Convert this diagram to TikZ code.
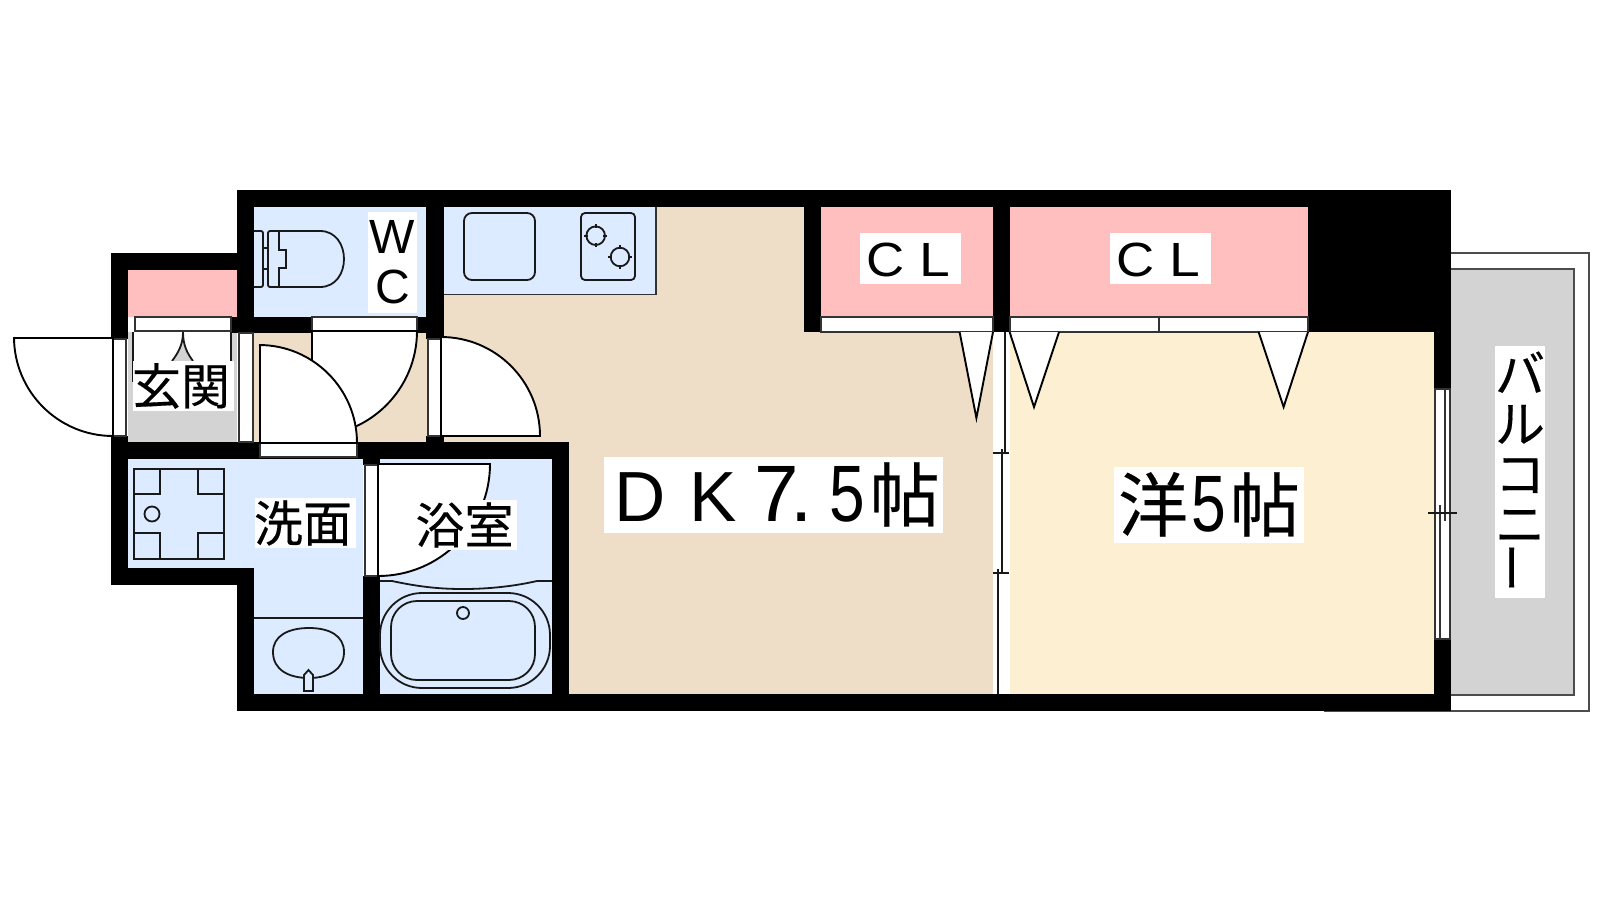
\documentclass[tikz,border=0pt]{standalone}
\usepackage{fontspec}
\setmainfont[FakeBold=0.3]{Noto Sans CJK JP}
\newfontfamily\latinfont{Liberation Sans}

\definecolor{wetblue}{HTML}{DCEBFF}
\definecolor{clpink}{HTML}{FFBFBF}
\definecolor{dkbeige}{HTML}{EEDEC8}
\definecolor{roomyellow}{HTML}{FDF0D2}
\definecolor{floorgray}{HTML}{D3D3D3}
\newcommand{\sz}[1]{\fontsize{#1pt}{#1pt}\selectfont}

\begin{document}
\begin{tikzpicture}[x=1pt,y=-1pt,
  wall/.style={fill=black,draw=none},
  thin line/.style={draw=black!90,line width=1.8pt},
  leaf/.style={draw=black,fill=white,line width=1.9pt},
  strip/.style={draw=black!80,fill=white,line width=1.6pt},
  room label/.style={fill=white,inner sep=0pt,text=black,align=center}]
\useasboundingbox (0,0) rectangle (1600,900);
\fill[white] (0,0) rectangle (1600,900);

% floors
\fill[dkbeige] (444,207) rectangle (993,694);
\fill[dkbeige] (254,333) rectangle (444,442);
\fill[roomyellow] (1010,332) rectangle (1434,694);
\fill[white] (993,332) rectangle (1010,694);
\fill[wetblue] (254,207) rectangle (426,317);
\fill[wetblue] (444,207) rectangle (656,295);
\fill[wetblue] (128,459) rectangle (363,568);
\fill[wetblue] (254,568) rectangle (363,694);
\fill[wetblue] (380,459) rectangle (552,694);
\fill[clpink] (128,270) rectangle (237,317);
\fill[clpink] (821,207) rectangle (993,317);
\fill[clpink] (1010,207) rectangle (1308,317);
\fill[floorgray] (128,332) rectangle (237,442);
\fill[white] (133,332) rectangle (231,361);
\draw[draw=black!80,line width=1.5pt] (444,294.5) -- (656,294.5) -- (656,207);

% balcony
\draw[draw=black!70,line width=1.6pt] (1324,711) -- (1589,711) -- (1589,253) -- (1450,253);
\draw[draw=black!70,fill=floorgray,line width=1.6pt] (1450,269) -- (1574,269) -- (1574,695) -- (1450,695);

% walls
\fill[wall] (237,190) rectangle (1451,207);
\fill[wall] (237,190) rectangle (254,333);
\fill[wall] (426,190) rectangle (444,339);
\fill[wall] (804,190) rectangle (821,332);
\fill[wall] (993,190) rectangle (1010,332);
\fill[wall] (1308,190) rectangle (1451,332);
\fill[wall] (1434,332) rectangle (1451,389);
\fill[wall] (1434,639) rectangle (1451,711);
\fill[wall] (111,253) rectangle (237,270);
\fill[wall] (111,253) rectangle (128,339);
\fill[wall] (231,317) rectangle (312,333);
\fill[wall] (417,317) rectangle (444,333);
\fill[wall] (111,436) rectangle (128,442);
\fill[wall] (426,436) rectangle (444,442);
\fill[wall] (111,442) rectangle (569,459);
\fill[wall] (111,459) rectangle (128,585);
\fill[wall] (111,568) rectangle (254,585);
\fill[wall] (237,585) rectangle (254,694);
\fill[wall] (237,694) rectangle (1451,711);
\fill[wall] (363,459) rectangle (380,465);
\fill[wall] (363,576) rectangle (380,694);
\fill[wall] (552,459) rectangle (569,694);

% door strips and closets
\draw[strip] (135,317) rectangle (231,331);
\draw[strip] (312,317) rectangle (417,331);
\draw[strip] (821,317) rectangle (993,332);
\draw[strip] (1010,317) rectangle (1159,332);
\draw[strip] (1159,317) rectangle (1308,332);
\draw[strip] (113,339) rectangle (126,436);
\draw[strip] (239,333) rectangle (253,442);
\draw[strip] (428,339) rectangle (441,436);
\draw[strip] (260,443) rectangle (357,457);
\draw[strip] (365,465) rectangle (378,576);

% entrance fold door
\draw[thin line] (133,332) -- (133,382);
\draw[thin line] (231,332) -- (231,361);
\fill[floorgray] (183,332) .. controls (183,345) and (178,353) .. (172,361) -- (193,361) .. controls (187,353) and (183,345) .. (183,332);
\draw[thin line] (172,361) .. controls (178,353) and (183,345) .. (183,332) .. controls (183,345) and (187,353) .. (193,361);

% swing doors
\draw[leaf] (14,338) -- (113,338) -- (113,436) arc[start angle=90,end angle=180,radius=99];
\draw[leaf] (312,331) -- (417,331) arc[start angle=0,end angle=90,radius=105] -- cycle;
\draw[leaf] (260,345) -- (260,443) -- (357,443) arc[start angle=0,end angle=-90,radius=98];
\draw[leaf] (441,338) -- (441,436) -- (540,436) arc[start angle=0,end angle=-90,radius=99];
\draw[leaf] (378,464) -- (490,464) arc[start angle=0,end angle=90,radius=112] -- cycle;
\draw[leaf] (959.6,332) -- (976.4,418) -- (993,332);
\draw[leaf] (1009.6,332) -- (1034,407) -- (1059,332);
\draw[leaf] (1258.6,332) -- (1283.6,407) -- (1308,332);

% sliding doors
\draw[thin line] (1004.7,332) -- (1004.7,453);
\draw[thin line] (1001.7,449) -- (1001.7,573);
\draw[thin line] (998.3,569) -- (998.3,694);
\draw[thin line] (993,453) -- (1009,453);
\draw[thin line] (993,573) -- (1009,573);

% balcony window
\draw[strip] (1435,389) rectangle (1450,639);
\draw[strip] (1445,389) -- (1445,521);
\draw[strip] (1440,505) -- (1440,639);
\draw[thin line] (1428,513) -- (1457,513);

% kitchen
\draw[thin line,rounded corners=8pt] (464,213) rectangle (535,280);
\draw[thin line,rounded corners=4pt] (581,213) rectangle (635,280);
\draw[thin line] (595.7,235.7) circle (9.3);
\draw[thin line] (620,257) circle (9.3);
\draw[thin line] (595.7,224) -- (595.7,228) (595.7,243) -- (595.7,247) (584,235.7) -- (588,235.7) (603,235.7) -- (607,235.7);
\draw[thin line] (620,245) -- (620,249) (620,265) -- (620,269) (608,257) -- (612,257) (628,257) -- (632,257);

% toilet
\draw[thin line,rounded corners=2pt] (254,231) -- (263,231) -- (263,287) -- (254,287);
\draw[thin line] (263,248) -- (268,248) (263,269) -- (268,269);
\draw[thin line,rounded corners=2pt] (320,287) -- (268,287) -- (268,231) -- (320,231);
\draw[thin line] (320,231) .. controls (336,231) and (344,245) .. (344,259) .. controls (344,273) and (336,287) .. (320,287);
\draw[thin line] (279,231) -- (279,250) -- (286,250) -- (286,268) -- (279,268) -- (279,287);

% laundry pan
\draw[thin line] (134,469) rectangle (224,559);
\draw[thin line] (134,494) -- (160,494) -- (160,469);
\draw[thin line] (198,469) -- (198,494) -- (224,494);
\draw[thin line] (134,533) -- (160,533) -- (160,559);
\draw[thin line] (198,559) -- (198,533) -- (224,533);
\draw[thin line] (152,514) circle (7.5);

% washbasin
\draw[thin line] (254,618) -- (363,618);
\draw[thin line] (309,628) .. controls (330,628) and (344,636) .. (344,652) .. controls (344,670) and (328,678) .. (309,678) .. controls (289,678) and (273,670) .. (273,652) .. controls (273,636) and (288,628) .. (309,628) -- cycle;
\draw[thin line,fill=wetblue] (304,691) -- (304,675) -- (308.5,670) -- (313,675) -- (313,691) -- cycle;

% bath
\draw[thin line] (380,581) -- (392,581) .. controls (420,587) and (440,589) .. (463,589) .. controls (490,589) and (515,586) .. (537,581) -- (552,581);
\draw[thin line,rounded corners=42pt] (380,593) rectangle (550,688);
\draw[thin line,rounded corners=26pt] (391,601) rectangle (535,680);
\draw[thin line] (463,613) circle (6);

% labels
\node[room label,minimum width=49pt,minimum height=101pt,font=\latinfont\sz{48}] (wc) at (392.5,262) {W\\[2pt]C};
\node[room label,minimum width=101pt,minimum height=50pt,font=\sz{49}] (entry) at (183.5,386) {\hspace{-3pt}玄関\hspace{2pt}};
\node[room label,minimum width=101pt,minimum height=50pt,font=\sz{49}] (wash) at (305.5,523) {\hspace{-3pt}洗面\hspace{2pt}};
\node[room label,minimum width=100pt,minimum height=50pt,font=\sz{49}] (bath) at (467,525) {\hspace{-3pt}浴室\hspace{2pt}};
\node[room label,minimum width=101pt,text height=44pt,text depth=7.3pt,font=\latinfont\sz{48}] (cl1) at (910.5,258.5) {\scalebox{1.1}[1]{C}\hspace{15pt}\scalebox{1.15}[1]{L}\hspace{4pt}};
\node[room label,minimum width=101pt,text height=44pt,text depth=7.3pt,font=\latinfont\sz{48}] (cl2) at (1160.5,258.5) {\scalebox{1.1}[1]{C}\hspace{15pt}\scalebox{1.15}[1]{L}\hspace{4pt}};
\node[room label,minimum width=339pt,text height=64pt,text depth=12pt] (dk) at (773.5,495) {\hspace{7pt}{\latinfont\sz{71}D\hspace{24pt}K\hspace{18pt}\sz{80}7\hspace{-9pt}.\hspace{17pt}\scalebox{.8}[1]{5}}\hspace{4.5pt}{\sz{70}帖}};
\node[room label,minimum width=190pt,text height=64pt,text depth=12pt] (west) at (1209,505) {{\sz{70}洋}\hspace{3pt}{\latinfont\sz{80}\scalebox{.78}[1]{5}}\hspace{4pt}{\sz{70}帖}};
\node[room label,minimum width=50pt,minimum height=252pt,font=\sz{50}] (balcony) at (1520,472) {バ\\ル\\コ\\ニ\\\rotatebox{90}{ー}};
\end{tikzpicture}
\end{document}
